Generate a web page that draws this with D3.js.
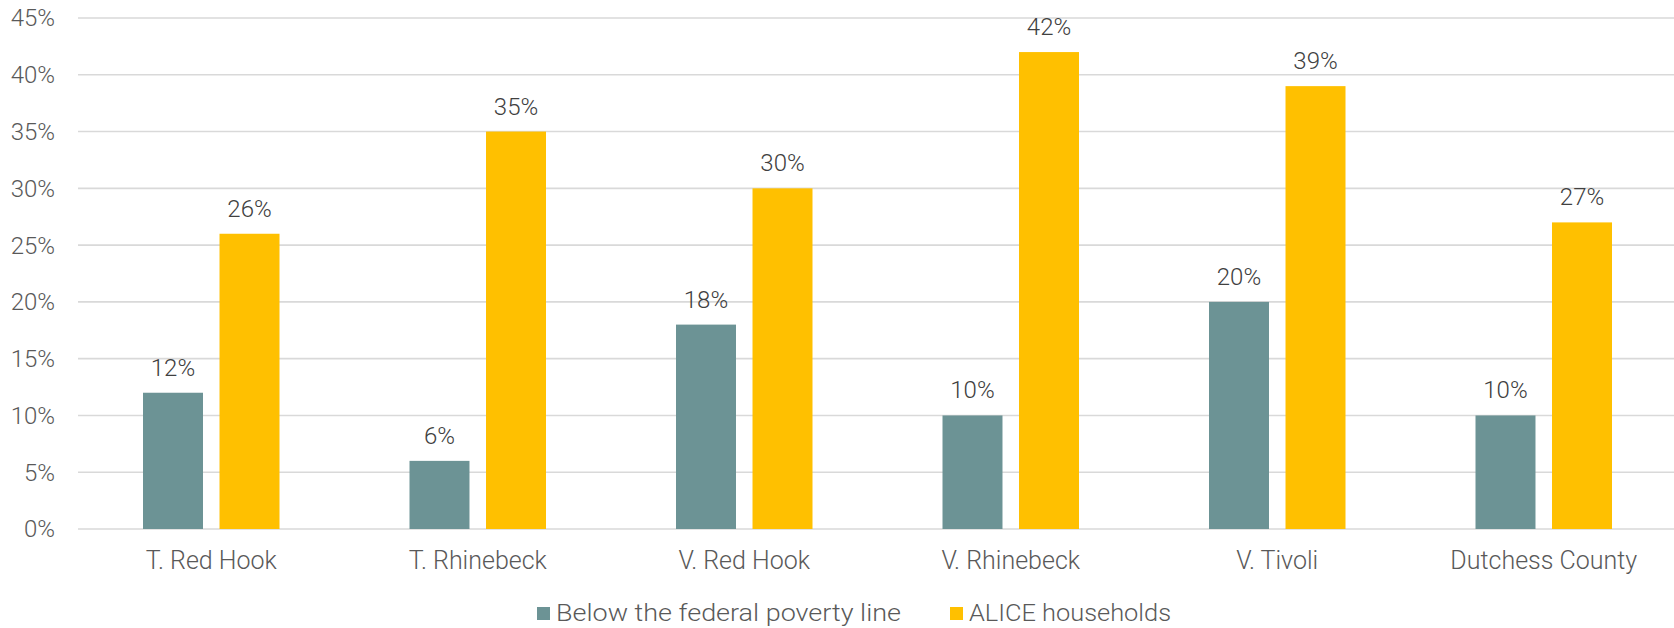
<!DOCTYPE html>
<html>
<head>
<meta charset="utf-8">
<script src="https://cdn.jsdelivr.net/npm/d3@7"></script>
<style>
  html, body { margin: 0; padding: 0; background: #fff; }
  svg { display: block; }
  text { font-family: Roboto, "Open Sans", sans-serif; font-weight: 300; }
</style>
</head>
<body>
<svg id="chart" width="1674" height="628"></svg>
<script>
const categories = ["T. Red Hook", "T. Rhinebeck", "V. Red Hook", "V. Rhinebeck", "V. Tivoli", "Dutchess County"];
const seriesNames = ["Below the federal poverty line", "ALICE households"];
const povertyValues = [0.12, 0.06, 0.18, 0.10, 0.20, 0.10];
const aliceValues = [0.26, 0.35, 0.30, 0.42, 0.39, 0.27];
const yTicks = [0, 0.05, 0.10, 0.15, 0.20, 0.25, 0.30, 0.35, 0.40, 0.45];
const colors = ["#6C9395", "#FFC000"];

const svg = d3.select("#chart");
const plotLeft = 78, plotRight = 1677, plotTop = 18, plotBottom = 529;

const x0 = d3.scaleBand().domain(categories).range([plotLeft, plotRight]).padding(0);
const y = d3.scaleLinear().domain([0, 0.45]).range([plotBottom, plotTop]);
const fmt = d3.format(".0%");

// gridlines
svg.append("g").selectAll("line").data(yTicks).join("line")
  .attr("x1", plotLeft).attr("x2", 1674)
  .attr("y1", d => y(d)).attr("y2", d => y(d))
  .attr("stroke", "#D9D9D9").attr("stroke-width", 1.6);

// y tick labels
svg.append("g").selectAll("text").data(yTicks).join("text")
  .attr("x", 55).attr("y", d => y(d)).attr("dy", "0.35em")
  .attr("text-anchor", "end").attr("font-size", 24).attr("fill", "#595959")
  .text(d => fmt(d));

const data = categories.map((c, i) => ({ cat: c, vals: [povertyValues[i], aliceValues[i]] }));

const groups = svg.append("g").selectAll("g").data(data).join("g");
groups.each(function(d) {
  const cx = x0(d.cat) + x0.bandwidth() / 2;
  const x1 = d3.scaleBand().domain([0, 1]).range([cx - 68.25, cx + 68.25]).paddingInner(0.216).paddingOuter(0);
  const g = d3.select(this);
  d.vals.forEach((v, k) => {
    g.append("rect")
      .attr("x", x1(k)).attr("width", x1.bandwidth())
      .attr("y", y(v)).attr("height", y(0) - y(v))
      .attr("fill", colors[k]);
    g.append("text")
      .attr("x", x1(k) + x1.bandwidth() / 2).attr("y", y(v) - 17)
      .attr("text-anchor", "middle").attr("font-size", 24).attr("fill", "#404040")
      .text(fmt(v));
  });
  g.append("text")
    .attr("x", cx).attr("y", 569)
    .attr("text-anchor", "middle").attr("font-size", 25).attr("fill", "#595959")
    .text(d.cat);
});

// legend
const legendItems = [
  { x: 537, name: seriesNames[0], c: colors[0], w: 345 },
  { x: 950, name: seriesNames[1], c: colors[1], w: 202 }
];
const lg = svg.append("g").selectAll("g").data(legendItems).join("g");
lg.append("rect").attr("x", d => d.x).attr("y", 607).attr("width", 13).attr("height", 13).attr("fill", d => d.c);
lg.append("text").attr("x", d => d.x + 19).attr("y", 621).attr("font-size", 24).attr("fill", "#595959")
  .attr("textLength", d => d.w).attr("lengthAdjust", "spacingAndGlyphs")
  .text(d => d.name);
</script>
</body>
</html>
